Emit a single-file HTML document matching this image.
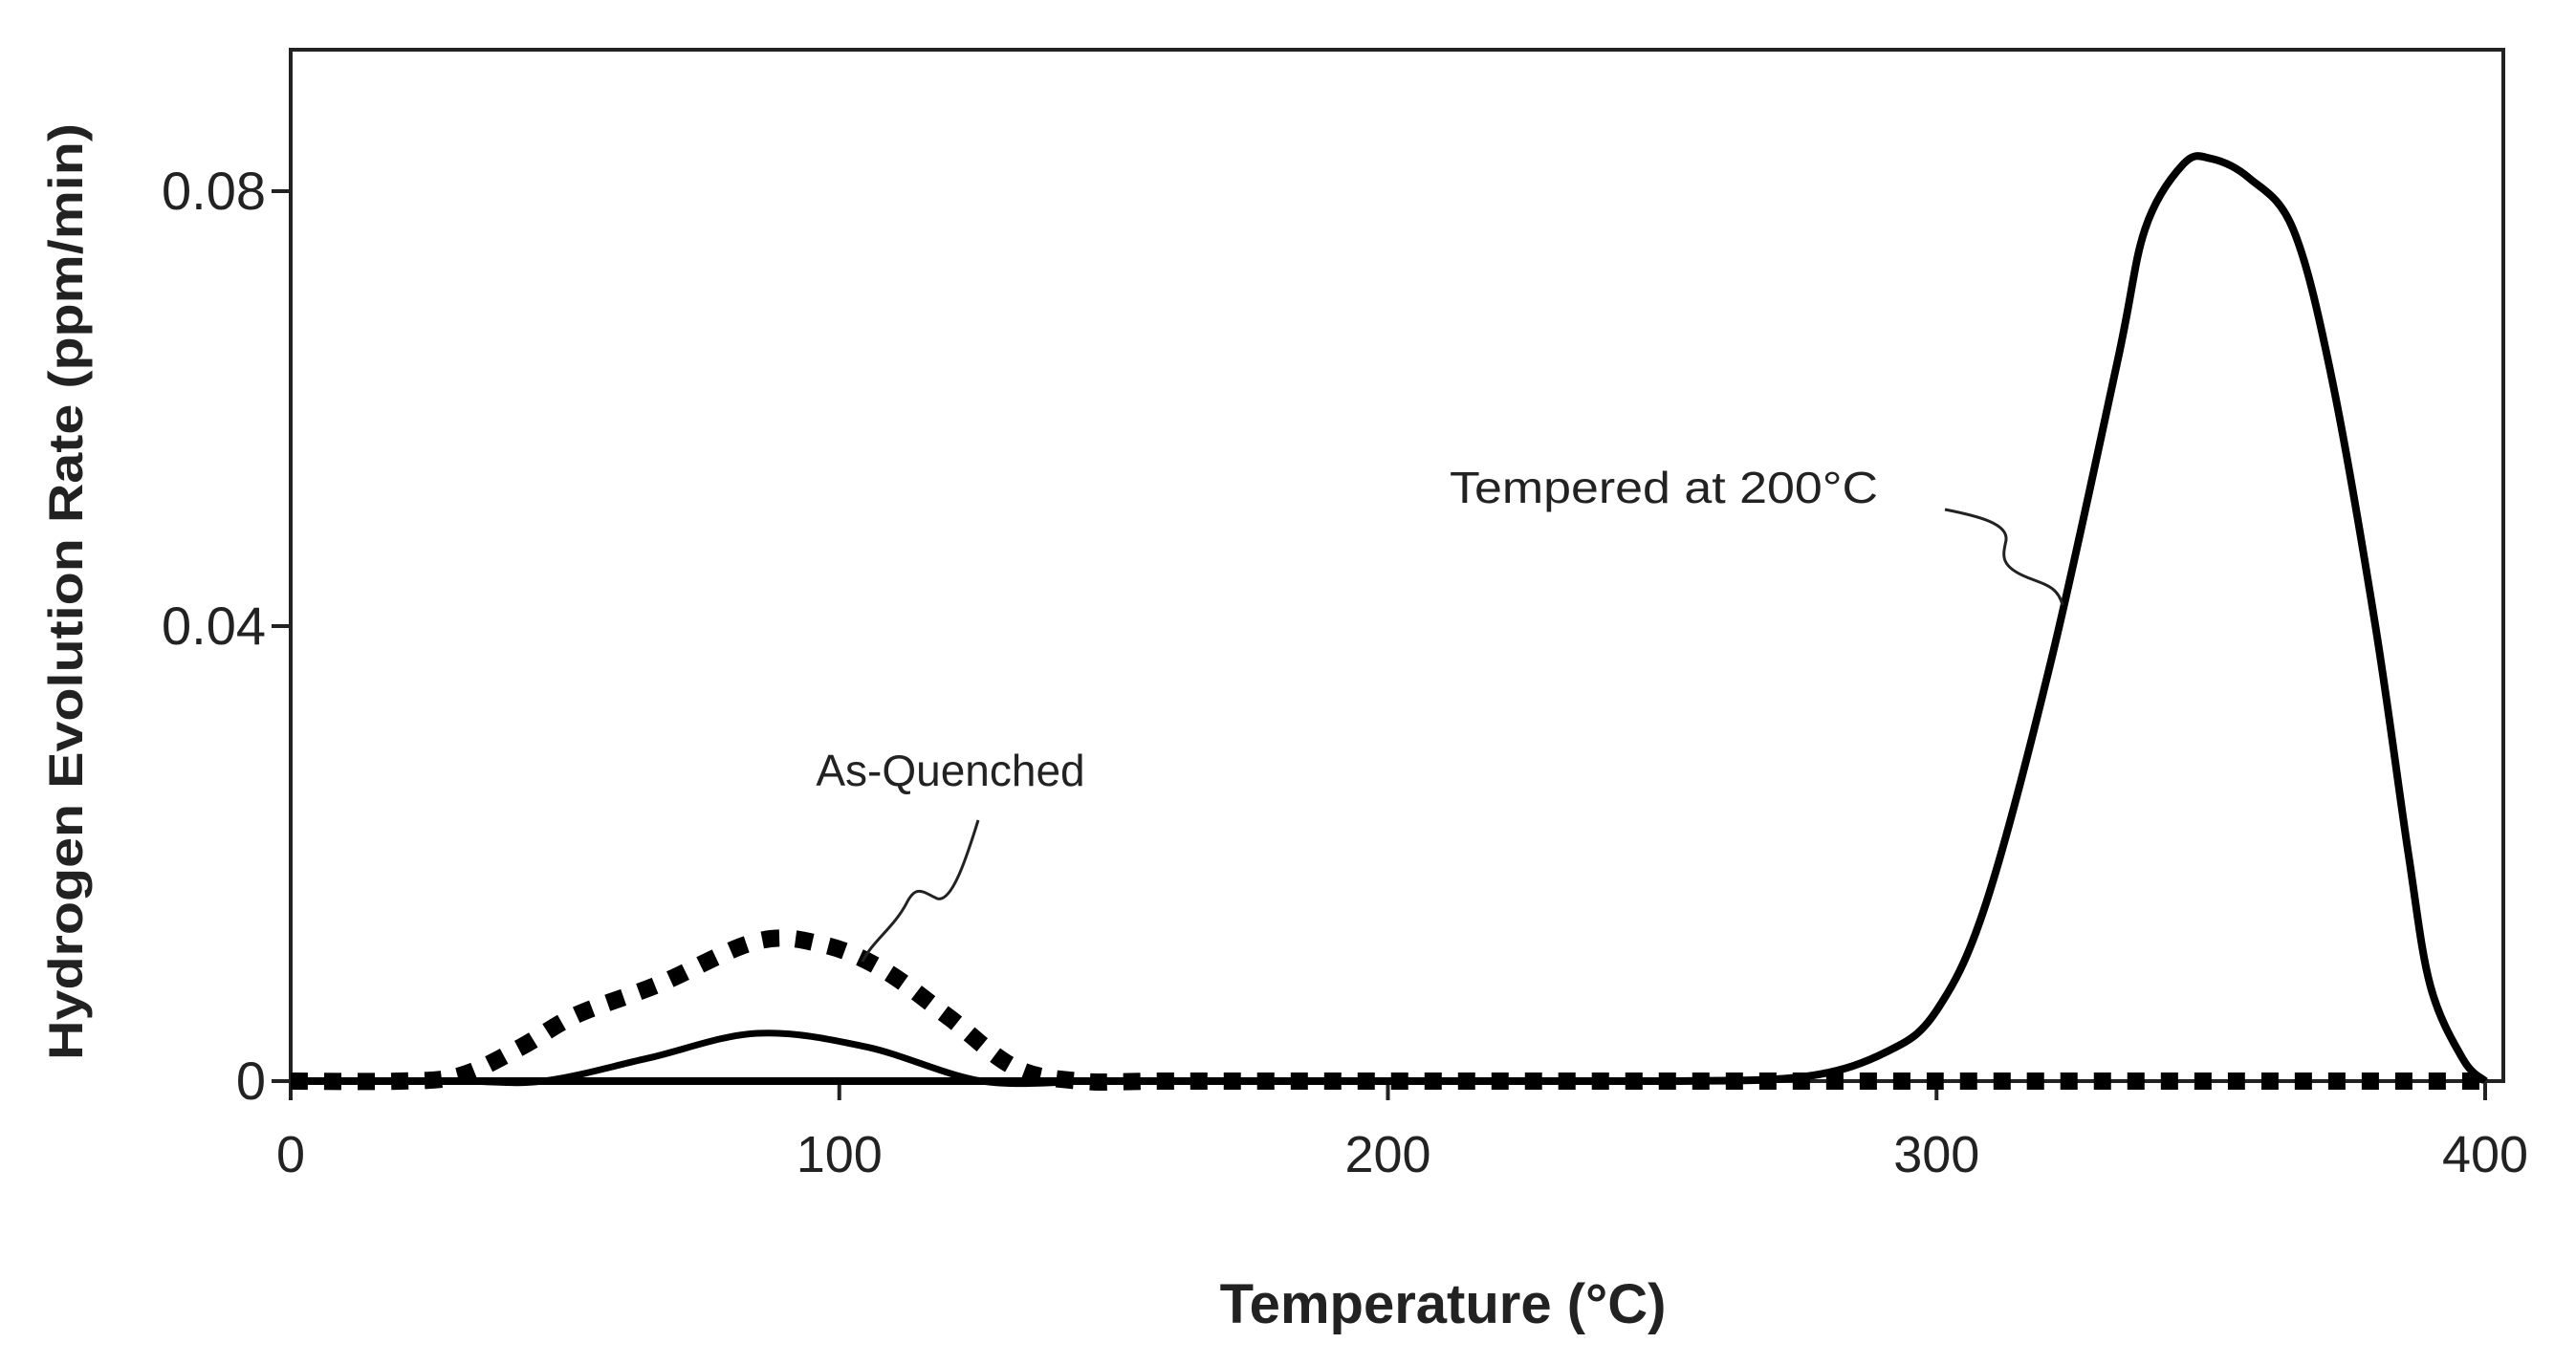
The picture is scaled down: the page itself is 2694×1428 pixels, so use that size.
<!DOCTYPE html>
<html><head><meta charset="utf-8"><style>
html,body{margin:0;padding:0;background:#fff;}
svg{display:block;}
text{font-family:"Liberation Sans",sans-serif;fill:#222;}
</style></head><body>
<svg id="chart" width="2694" height="1428" viewBox="0 0 2694 1428">
<rect x="304" y="52" width="2314" height="1079" fill="none" stroke="#222" stroke-width="4"/>
<g id="axes"></g>
<g id="series"></g>
<text transform="translate(86,619) rotate(-90)" text-anchor="middle" font-size="50" font-weight="bold" textLength="980" lengthAdjust="spacingAndGlyphs">Hydrogen Evolution Rate (ppm/min)</text>
<text x="1509" y="1384" text-anchor="middle" font-size="58" font-weight="bold" fill="#111">Temperature (°C)</text>
<text x="994" y="822" text-anchor="middle" font-size="46">As-Quenched</text>
<text x="1516" y="526" font-size="46" textLength="448" lengthAdjust="spacingAndGlyphs">Tempered at 200°C</text>
<path d="M1023,858 C1010,900 995,945 980,940 C965,933 958,925 948,945 C935,970 912,985 902,1006" fill="none" stroke="#222" stroke-width="3"/>
<path d="M2034,533 C2070,540 2100,548 2098,565 C2095,580 2090,592 2120,604 C2140,612 2152,614 2157,633" fill="none" stroke="#222" stroke-width="3"/>
</svg>
<script>
const xTicks=[0,100,200,300,400];
const yTicks=[0,0.04,0.08];
const yTickLabels=["0","0.04","0.08"];
const temperedT=[0,40,100,200,250,276,291,300,309,321,333,338,345,350,357,365,372,380,386,390,396,400];
const temperedV=[0,0,0,0,0,0.0004,0.0026,0.0062,0.0156,0.0372,0.0644,0.0765,0.0825,0.083,0.0812,0.0765,0.0629,0.040,0.020,0.0084,0.0019,0];
const temperedSmallT=[0,30,46,65,85,105,126,145];
const temperedSmallV=[0,0,0,0.002,0.0042,0.003,0.0,0];
const quenchedT=[0,20,31,42,52,67,85,97,108,120,132,144,160,200,300,400];
const quenchedV=[0,0,0.0005,0.003,0.0058,0.0085,0.0123,0.012,0.0098,0.0056,0.0012,0,0,0,0,0];
const NS="http://www.w3.org/2000/svg";
const xs=t=>304+t*(2599-304)/400;
// piecewise-linear y axis through the printed tick positions
const yKnotV=[0,0.04,0.08];
const yKnotPx=[1131,655,200];
const ys=v=>{
  const i=v<=yKnotV[1]?0:1;
  return yKnotPx[i]+(v-yKnotV[i])*(yKnotPx[i+1]-yKnotPx[i])/(yKnotV[i+1]-yKnotV[i]);
};
function mk(tag,attrs,parent){const e=document.createElementNS(NS,tag);for(const k in attrs)e.setAttribute(k,attrs[k]);parent.appendChild(e);return e;}
const axes=document.getElementById('axes');
xTicks.forEach(t=>{
  const l=mk('line',{x1:xs(t),x2:xs(t),y1:1131,y2:1151,stroke:'#222','stroke-width':4},axes);
  
  
  const tx=mk('text',{x:xs(t),y:1226,'text-anchor':'middle','font-size':54},axes);
  tx.textContent=String(t);
  
  
});
yTicks.forEach((v,i)=>{
  const l=mk('line',{x1:284,x2:304,y1:ys(v),y2:ys(v),stroke:'#222','stroke-width':4},axes);
  
  
  const tx=mk('text',{x:278,y:ys(v)+19,'text-anchor':'end','font-size':56},axes);
  tx.textContent=yTickLabels[i];
  
  
});
function smooth(T,V){
  const p=T.map((t,i)=>[xs(t),ys(V[i])]);
  let d='M'+p[0][0]+','+p[0][1];
  for(let i=0;i<p.length-1;i++){
    const p0=p[i-1]||p[i],p1=p[i],p2=p[i+1],p3=p[i+2]||p2;
    const c1=[p1[0]+(p2[0]-p0[0])/6,p1[1]+(p2[1]-p0[1])/6];
    const c2=[p2[0]-(p3[0]-p1[0])/6,p2[1]-(p3[1]-p1[1])/6];
    d+=` C${c1[0]},${c1[1]} ${c2[0]},${c2[1]} ${p2[0]},${p2[1]}`;
  }
  return d;
}
const g=document.getElementById('series');
const q=mk('path',{d:smooth(quenchedT,quenchedV),fill:'none',stroke:'#000','stroke-width':18,'stroke-dasharray':'18 17'},g);


const s=mk('path',{d:smooth(temperedSmallT,temperedSmallV),fill:'none',stroke:'#000','stroke-width':7},g);


const tp=mk('path',{d:smooth(temperedT,temperedV),fill:'none',stroke:'#000','stroke-width':8},g);


</script>
</body></html>
